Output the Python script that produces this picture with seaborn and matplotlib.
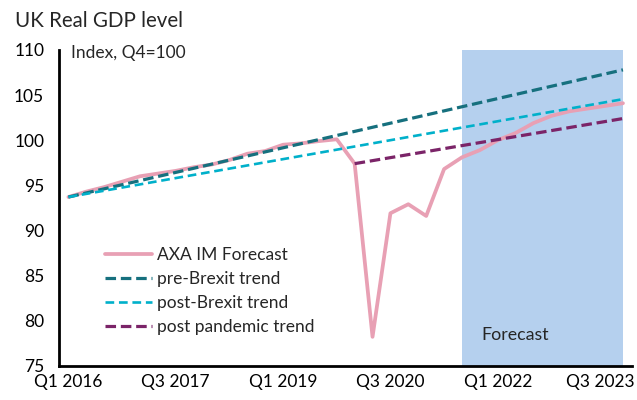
import numpy as np
import pandas as pd
import matplotlib
matplotlib.use("Agg")
import matplotlib.pyplot as plt
import matplotlib.transforms as mtransforms
import seaborn as sns

# Data
quarters = [f"Q{q} {y}" for y in range(2016, 2024) for q in range(1, 5)]
axa_forecast = [93.7, 94.3, 94.8, 95.4, 96.0, 96.3, 96.6, 97.0, 97.3, 97.8,
                98.5, 98.8, 99.5, 99.65, 99.9, 100.1, 97.4, 78.2, 91.9, 92.9,
                91.6, 96.8, 98.1, 98.9, 100.0, 100.8, 101.9, 102.7, 103.2, 103.5,
                103.8, 104.1]
pre_brexit_q = ["Q1 2016", "Q4 2023"]
pre_brexit = [93.7, 107.8]
post_brexit_q = ["Q1 2016", "Q4 2023"]
post_brexit = [93.7, 104.55]
post_pandemic_q = ["Q1 2020", "Q4 2023"]
post_pandemic = [97.4, 102.4]
forecast_from, forecast_to = "Q3 2021", "Q4 2023"
tick_labels = ["Q1 2016", "Q3 2017", "Q1 2019", "Q3 2020", "Q1 2022", "Q3 2023"]
y_ticks = [75, 80, 85, 90, 95, 100, 105, 110]

pos = {q: i for i, q in enumerate(quarters)}

sns.set_style("white")
plt.rcParams['font.family'] = ['Lato', 'DejaVu Sans']

pink = "#E8A0B4"
teal = "#16707E"
cyan = "#00B0CA"
purple = "#7B2468"
shade = "#B5D0EE"

fig = plt.figure(figsize=(6.37, 4), dpi=100)
ax = fig.add_axes([0.0934, 0.0858, 0.8986, 0.7892])

ax.axvspan(pos[forecast_from], pos[forecast_to], color=shade, lw=0, zorder=0)

sns.lineplot(x=[pos[q] for q in quarters], y=axa_forecast, color=pink, lw=2.7,
             ax=ax, label="AXA IM Forecast")
sns.lineplot(x=[pos[q] for q in pre_brexit_q], y=pre_brexit, color=teal, lw=2.3,
             linestyle=(0, (3.3, 1.5)), ax=ax, label="pre-Brexit trend")
sns.lineplot(x=[pos[q] for q in post_brexit_q], y=post_brexit, color=cyan, lw=1.9,
             linestyle=(0, (3.3, 1.8)), ax=ax, label="post-Brexit trend")
sns.lineplot(x=[pos[q] for q in post_pandemic_q], y=post_pandemic, color=purple, lw=2.3,
             linestyle=(0, (3.3, 1.5)), ax=ax, label="post pandemic trend")

ax.set_xlim(-0.5, len(quarters) - 0.5)
ax.set_ylim(75, 110)

# labels at category centres, tick marks on category boundaries
ax.set_xticks([pos[t] for t in tick_labels])
ax.set_xticklabels(tick_labels)
ax.set_xticks([pos[t] - 0.5 for t in tick_labels], minor=True)
ax.tick_params(axis="x", which="major", length=0, pad=6, labelsize=12.5, colors="black")
ax.tick_params(axis="x", which="minor", direction="in", length=5, width=2, color="black")
ax.set_yticks(y_ticks)
ax.tick_params(axis="y", direction="in", length=4, width=2, pad=11, labelsize=12.5, colors="black")

# nudge the last label so it stays inside the figure
last = ax.get_xticklabels()[-1]
last.set_transform(last.get_transform() + mtransforms.ScaledTranslation(-5 / 100, 0, fig.dpi_scale_trans))

for s in ["top", "right"]:
    ax.spines[s].set_visible(False)
for s in ["left", "bottom"]:
    ax.spines[s].set_linewidth(2)
    ax.spines[s].set_color("black")

ax.text(0.02, 0.991, "Index, Q4=100", transform=ax.transAxes, va="center", ha="left", fontsize=12.5)
ax.text(23.1, 78.4, "Forecast", va="center", ha="left", fontsize=12.8)
fig.text(0.0235, 0.948, "UK Real GDP level", va="center", ha="left", fontsize=14.8)

ax.legend(loc="upper left", bbox_to_anchor=(0.0795, 0.375), frameon=False,
          borderpad=0, borderaxespad=0, handlelength=2.7, handletextpad=0.3,
          labelspacing=0.45, fontsize=12.5)

fig.savefig("out.png", dpi=100)
